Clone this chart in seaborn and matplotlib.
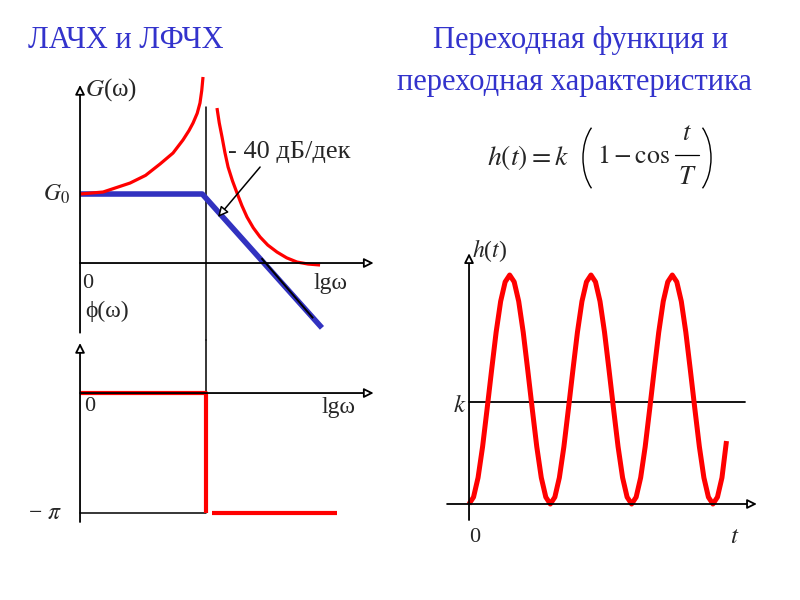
import numpy as np
import matplotlib
matplotlib.use("Agg")
import matplotlib.pyplot as plt
from matplotlib.patches import Arc
import seaborn as sns

# ЛАЧХ: ось x - lg(omega) (излом в точке 1), ось y - G в единицах G0
asym_x = [0.0, 0.97, 1.92]
asym_y = [1.0, 1.0, -0.94]
slope_x = [1.44, 1.85]
slope_y = [0.07, -0.80]
res_left_x = [0.0, 0.183, 0.397, 0.52, 0.635, 0.738, 0.817, 0.865, 0.897, 0.93, 0.952, 0.966, 0.976]
res_left_y = [1.0, 1.029, 1.159, 1.27, 1.435, 1.594, 1.783, 1.92, 2.029, 2.17, 2.319, 2.50, 2.696]
res_right_x = [1.087, 1.105, 1.127, 1.15, 1.175, 1.21, 1.246, 1.285, 1.325, 1.375, 1.429, 1.49, 1.563, 1.64, 1.722, 1.81, 1.905]
res_right_y = [2.246, 2.03, 1.826, 1.60, 1.391, 1.19, 1.014, 0.83, 0.667, 0.51, 0.377, 0.26, 0.159, 0.075, 0.014, -0.015, -0.029]

# ЛФЧХ
phase_step_x = [0.0, 1.0, 1.0]
phase_step_y = [0.0, 0.0, -np.pi]
phase_tail_x = [1.05, 2.04]
phase_tail_y = [-np.pi, -np.pi]

# переходная характеристика h/k, отсчёты через 1/18 периода
h_vals = [0, 0.06, 0.23, 0.5, 0.83, 1.17, 1.5, 1.77, 1.94, 2, 1.94, 1.77, 1.5, 1.17, 0.83, 0.5, 0.23, 0.06,
          0, 0.06, 0.23, 0.5, 0.83, 1.17, 1.5, 1.77, 1.94, 2, 1.94, 1.77, 1.5, 1.17, 0.83, 0.5, 0.23, 0.06,
          0, 0.06, 0.23, 0.5, 0.83, 1.17, 1.5, 1.77, 1.94, 2, 1.94, 1.77, 1.5, 1.17, 0.83, 0.5, 0.23, 0.06,
          0, 0.06, 0.23, 0.55]
t_step = 1 / 18
k_level = 0.89

RED = "#ff0000"
BLUE = "#3232c0"
TITLE = "#3333cc"

sns.set_theme(style="white")
plt.rcParams["font.family"] = ["Liberation Serif", "DejaVu Serif"]
plt.rcParams["mathtext.fontset"] = "stix"

fig = plt.figure(figsize=(8, 6), dpi=100)
fig.patch.set_facecolor("white")

ax_g = fig.add_axes([0.0375, 0.4333, 0.45, 0.45])
ax_p = fig.add_axes([0.0375, 0.1, 0.45, 0.3333])
ax_h = fig.add_axes([0.5375, 0.0667, 0.45, 0.5583])
# слой для формулы (пиксельные координаты)
ax_f = fig.add_axes([0, 0, 1, 1])
for ax in (ax_g, ax_p, ax_h, ax_f):
    ax.set_axis_off()
    ax.patch.set_alpha(0)

ax_g.set_xlim(-0.397, 2.460)
ax_g.set_ylim(-1.116, 2.797)
ax_p.set_xlim(-0.397, 2.460)
ax_p.set_ylim(-3.848, 1.388)
ax_h.set_xlim(-0.480, 3.948)
ax_h.set_ylim(-0.489, 2.437)
ax_f.set_xlim(0, 800)
ax_f.set_ylim(600, 0)


def axis_arrow(ax, start, end):
    ax.annotate("", xy=end, xytext=start,
                arrowprops=dict(arrowstyle="-|>", fc="white", ec="black", lw=1.3,
                                mutation_scale=14, shrinkA=0, shrinkB=0))


def curve(ax, x, y, color, lw):
    sns.lineplot(x=x, y=y, ax=ax, color=color, lw=lw, sort=False, estimator=None,
                 solid_capstyle="butt", solid_joinstyle="round")


# --- ЛАЧХ ---
axis_arrow(ax_g, (0, -1.01), (0, 2.58))
axis_arrow(ax_g, (0, 0), (2.33, 0))
ax_g.plot([1, 1], [2.26, -1.116], color="black", lw=1.1, clip_on=False)
curve(ax_g, asym_x, asym_y, BLUE, 4)
curve(ax_g, slope_x, slope_y, "black", 1.4)
curve(ax_g, res_left_x, res_left_y, RED, 2.3)
curve(ax_g, res_right_x, res_right_y, RED, 2.3)
ax_g.annotate("", xy=(1.095, 0.667), xytext=(1.429, 1.391),
              arrowprops=dict(arrowstyle="-|>", fc="white", ec="black", lw=1.1,
                              mutation_scale=15, shrinkA=0, shrinkB=0))
ax_g.text(1.175, 1.609, "- 40 дБ/дек", fontsize=19, ha="left", va="center")
ax_g.text(0.04, 2.52, "$G$(ω)", fontsize=18, ha="left", va="center")
ax_g.text(-0.08, 1.0, "$G_0$", fontsize=17, ha="right", va="center")
ax_g.text(0.02, -0.29, "0", fontsize=16, ha="left", va="center")
ax_g.text(1.85, -0.29, "lgω", fontsize=17, ha="left", va="center")
ax_g.text(0.04, -0.70, "ϕ(ω)", fontsize=17, ha="left", va="center")

# --- ЛФЧХ ---
axis_arrow(ax_p, (0, -3.377), (0, 1.309))
axis_arrow(ax_p, (0, 0), (2.33, 0))
ax_p.plot([1, 1], [1.388, 0], color="black", lw=1.1, clip_on=False)
ax_p.plot([0, 1], [-np.pi, -np.pi], color="black", lw=1.1)
curve(ax_p, phase_step_x, phase_step_y, RED, 3)
curve(ax_p, phase_tail_x, phase_tail_y, RED, 3)
ax_p.text(0.03, -0.36, "0", fontsize=16, ha="left", va="center")
ax_p.text(1.92, -0.38, "lgω", fontsize=17, ha="left", va="center")
ax_p.text(-0.14, -np.pi, "− $\\pi$", fontsize=17, ha="right", va="center")

# --- переходная характеристика ---
t_vals = np.arange(len(h_vals)) * t_step
axis_arrow(ax_h, (0, -0.14), (0, 2.19))
axis_arrow(ax_h, (-0.27, 0), (3.54, 0))
ax_h.plot([0, 3.39], [k_level, k_level], color="black", lw=1.3)
curve(ax_h, t_vals, h_vals, RED, 3.6)
ax_h.text(0.04, 2.21, "$h$($t$)", fontsize=17, ha="left", va="center")
ax_h.text(-0.03, k_level - 0.03, "$k$", fontsize=18, ha="right", va="center")
ax_h.text(0.07, -0.29, "0", fontsize=16, ha="center", va="center")
ax_h.text(3.27, -0.29, "$t$", fontsize=18, ha="center", va="center")

# --- заголовки ---
fig.text(0.035, 0.933, "ЛАЧХ и ЛФЧХ", fontsize=22, color=TITLE, ha="left", va="center")
fig.text(0.726, 0.933, "Переходная функция и", fontsize=22, color=TITLE, ha="center", va="center")
fig.text(0.7175, 0.863, "переходная характеристика", fontsize=22, color=TITLE, ha="center", va="center")

# формула h(t) = k(1 - cos t/T) с большими скобками
ax_f.text(569, 157, "$h(t) = k$", fontsize=20, ha="right", va="center")
ax_f.text(597, 157, r"$1 - \cos$", fontsize=18.5, ha="left", va="center")
ax_f.text(687, 134, "$t$", fontsize=19, ha="center", va="center")
ax_f.text(687, 178, "$T$", fontsize=19, ha="center", va="center")
ax_f.plot([675, 699], [155, 155], color="black", lw=0.9)
ax_f.add_patch(Arc((609, 158), 52, 82, theta1=120, theta2=240, color="black", lw=1.0))
ax_f.add_patch(Arc((685, 158), 52, 82, theta1=-60, theta2=60, color="black", lw=1.0))

fig.savefig("out.png", dpi=100, facecolor="white")
